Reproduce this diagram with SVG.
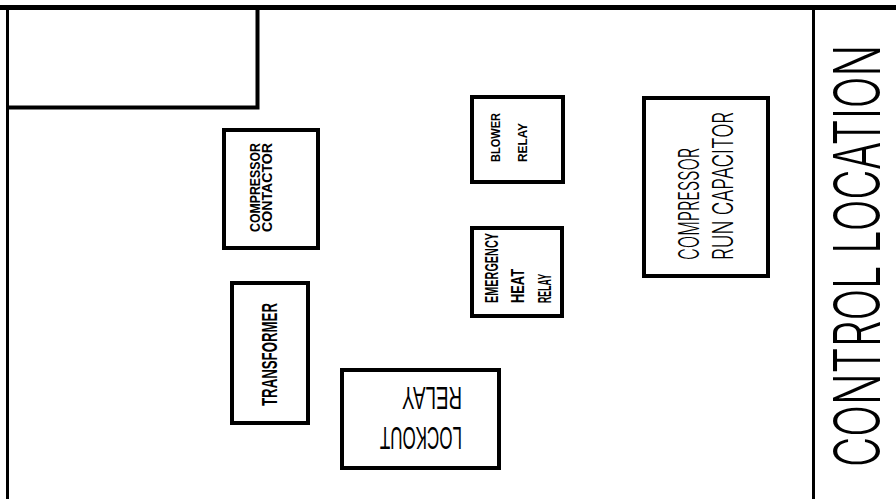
<svg xmlns="http://www.w3.org/2000/svg" width="896" height="499" viewBox="0 0 896 499">
<style>
.box{fill:#fff;stroke:#000;stroke-width:4}
.ln{stroke:#000;fill:none}
.b{font-family:"Liberation Sans",Arial,sans-serif;font-weight:bold;fill:#000}
.t{font-family:"Liberation Sans",Arial,sans-serif;font-weight:normal;fill:#000}
.thin{font-family:Inter,"Liberation Sans",sans-serif;font-weight:300;fill:#000}
</style>
<rect width="896" height="499" fill="#fff"/>
<g id="frame">
<line class="ln" x1="0" y1="7.5" x2="896" y2="7.5" stroke-width="5"/>
<line class="ln" x1="7.5" y1="5" x2="7.5" y2="499" stroke-width="3"/>
<line class="ln" x1="813.5" y1="7" x2="813.5" y2="499" stroke-width="3"/>
<polyline class="ln" points="7,107.5 257.5,107.5 257.5,7" stroke-width="4"/>
</g>
<g id="connectors"></g>
<g id="compressor-contactor">
<rect class="box" x="224" y="130" width="94" height="118"/>
<text class="b" font-size="15" transform="translate(260,232) rotate(-90)" textLength="89" lengthAdjust="spacingAndGlyphs">COMPRESSOR</text>
<text class="b" font-size="15" transform="translate(272,232) rotate(-90)" textLength="89" lengthAdjust="spacingAndGlyphs">CONTACTOR</text>
</g>
<g id="transformer">
<rect class="box" x="232" y="283" width="76" height="140"/>
<text class="b" font-size="22" transform="translate(277,406) rotate(-90)" textLength="103" lengthAdjust="spacingAndGlyphs">TRANSFORMER</text>
</g>
<g id="lockout-relay">
<rect class="box" x="342" y="370" width="157" height="98"/>
<text class="t" font-size="32" transform="translate(462,427) rotate(180)" textLength="82" lengthAdjust="spacingAndGlyphs">LOCKOUT</text>
<text class="t" font-size="32" transform="translate(462,387) rotate(180)" textLength="60" lengthAdjust="spacingAndGlyphs">RELAY</text>
</g>
<g id="blower-relay">
<rect class="box" x="472" y="97" width="91" height="85"/>
<text class="b" font-size="13" transform="translate(500,162) rotate(-90)" textLength="49" lengthAdjust="spacingAndGlyphs">BLOWER</text>
<text class="b" font-size="13" transform="translate(527,162) rotate(-90)" textLength="39" lengthAdjust="spacingAndGlyphs">RELAY</text>
</g>
<g id="emergency-heat-relay">
<rect class="box" x="472" y="228" width="90" height="88"/>
<text class="b" font-size="19" transform="translate(498,303) rotate(-90)" textLength="70" lengthAdjust="spacingAndGlyphs">EMERGENCY</text>
<text class="b" font-size="19" transform="translate(524,303) rotate(-90)" textLength="34" lengthAdjust="spacingAndGlyphs">HEAT</text>
<text class="b" font-size="19" transform="translate(551,303) rotate(-90)" textLength="29" lengthAdjust="spacingAndGlyphs">RELAY</text>
</g>
<g id="compressor-run-capacitor">
<rect class="box" x="644" y="98" width="124" height="178"/>
<text class="thin" font-size="29" transform="translate(699,260) rotate(-90)" textLength="112" lengthAdjust="spacingAndGlyphs">COMPRESSOR</text>
<text class="thin" font-size="29" transform="translate(733,260) rotate(-90)" textLength="148" lengthAdjust="spacingAndGlyphs">RUN CAPACITOR</text>
</g>
<g id="control-location">
<text class="thin" font-size="65" transform="translate(880,467) rotate(-90) scale(0.7,1)" textLength="603" lengthAdjust="spacingAndGlyphs">CONTROL LOCATION</text>
</g>
</svg>
